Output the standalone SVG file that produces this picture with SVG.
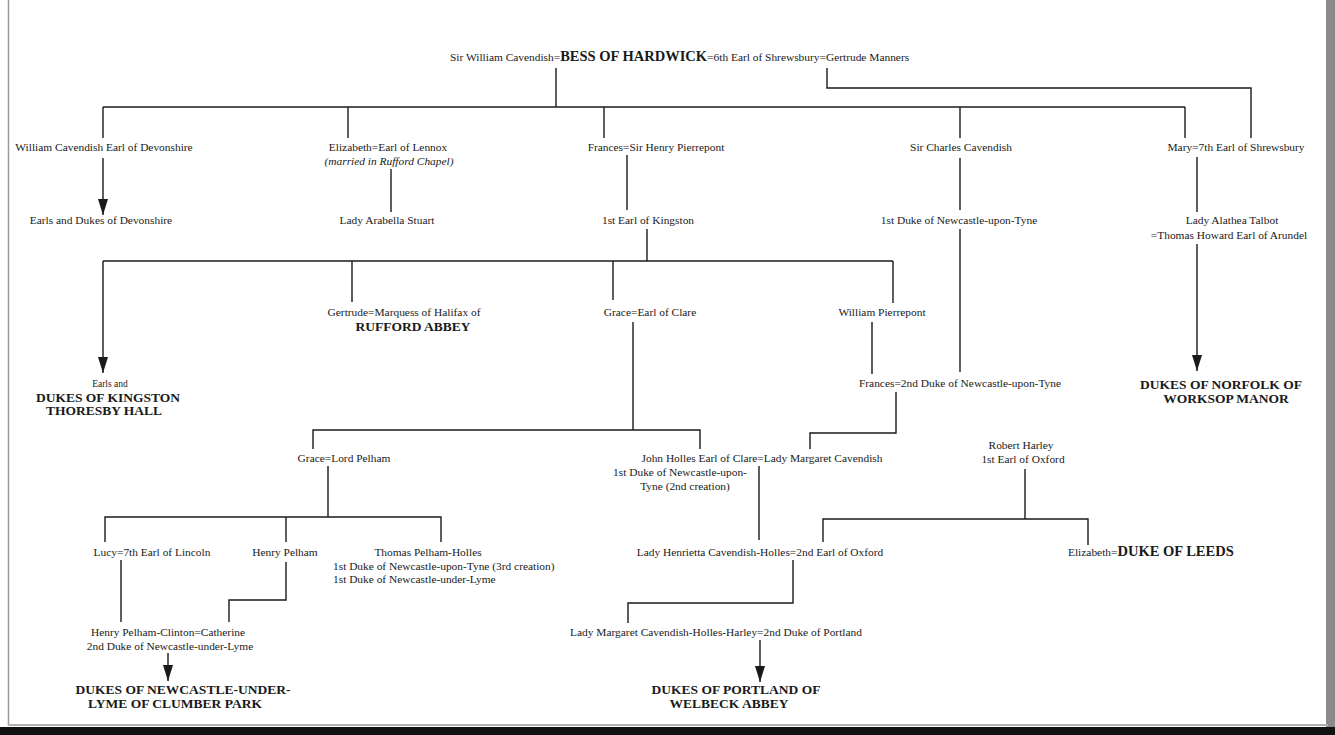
<svg xmlns="http://www.w3.org/2000/svg" width="1335" height="735" viewBox="0 0 1335 735">
<defs>
<style>
text{font-family:"Liberation Serif","Times New Roman",serif;font-size:11.4px;fill:#1a1a1a}
.c{text-anchor:middle}
.b{font-weight:bold;font-size:13.5px}
.bb{font-weight:bold;font-size:14.5px}
.i{font-style:italic}
.sm{font-size:9.5px}
#connectors path{fill:none;stroke:#1a1a1a;stroke-width:1.4}
</style>
<marker id="arr" markerUnits="userSpaceOnUse" markerWidth="10" markerHeight="16" viewBox="0 0 10 16" refX="5" refY="16">
<path d="M0,0 L10,0 L5,16 Z" fill="#1a1a1a"/>
</marker>
</defs>
<rect width="1335" height="735" fill="#ffffff"/>
<g id="frame">
<line x1="8.5" y1="0" x2="8.5" y2="726" stroke="#9a9a9a" stroke-width="1.5"/>
<rect x="1326" y="0" width="9" height="735" fill="#8a8a8a"/>
<rect x="8" y="724" width="1320" height="2" fill="#b0b0b0"/>
<rect x="0" y="727" width="1335" height="8" fill="#111"/>
</g>
<g id="connectors">
<path d="M556,68 V107"/>
<path d="M103,107 H1185"/>
<path d="M103,107 V138"/>
<path d="M348,107 V138"/>
<path d="M604,107 V138"/>
<path d="M960,107 V138"/>
<path d="M1185,107 V138"/>
<path d="M827,68 V88 H1251 V138"/>
<path d="M103,158 V215" marker-end="url(#arr)"/>
<path d="M391,169 V212"/>
<path d="M627,155 V210"/>
<path d="M960,158 V210"/>
<path d="M1197,157 V212"/>
<path d="M647,229 V261"/>
<path d="M103,261 H893"/>
<path d="M103,261 V373" marker-end="url(#arr)"/>
<path d="M352,261 V302"/>
<path d="M613,261 V300"/>
<path d="M893,261 V303"/>
<path d="M960,229 V372"/>
<path d="M1197,244 V371" marker-end="url(#arr)"/>
<path d="M872,322 V374"/>
<path d="M896,392 V433 H810 V449"/>
<path d="M633,322 V430"/>
<path d="M313,449 V430 H700 V449"/>
<path d="M759,466 V540"/>
<path d="M1025,469 V519"/>
<path d="M823,542 V519 H1088 V545"/>
<path d="M328,466 V517"/>
<path d="M105,542 V517 H441 V542"/>
<path d="M286,517 V542"/>
<path d="M121,560 V622"/>
<path d="M286,562 V600 H229 V622"/>
<path d="M168,653 V681" marker-end="url(#arr)"/>
<path d="M793,560 V603 H628 V623"/>
<path d="M760,640 V682" marker-end="url(#arr)"/>
</g>
<g id="bess">
<text x="450" y="61">Sir William Cavendish<tspan>=</tspan><tspan class="bb">BESS OF HARDWICK</tspan><tspan>=6th Earl of Shrewsbury</tspan><tspan>=Gertrude Manners</tspan></text>
</g>
<g id="william-cavendish"><text class="c" x="104" y="151">William Cavendish Earl of Devonshire</text></g>
<g id="devonshire"><text class="c" x="101" y="224">Earls and Dukes of Devonshire</text></g>
<g id="elizabeth-lennox">
<text class="c" x="388" y="151">Elizabeth=Earl of Lennox</text>
<text class="c i" x="389" y="165">(married in Rufford Chapel)</text>
</g>
<g id="arabella"><text class="c" x="387" y="224">Lady Arabella Stuart</text></g>
<g id="frances-pierrepont"><text class="c" x="656" y="151">Frances=Sir Henry Pierrepont</text></g>
<g id="kingston"><text class="c" x="648" y="224">1st Earl of Kingston</text></g>
<g id="charles-cavendish"><text class="c" x="961" y="151">Sir Charles Cavendish</text></g>
<g id="newcastle1"><text class="c" x="959" y="224">1st Duke of Newcastle-upon-Tyne</text></g>
<g id="mary"><text class="c" x="1236" y="151">Mary=7th Earl of Shrewsbury</text></g>
<g id="alathea">
<text class="c" x="1232" y="224">Lady Alathea Talbot</text>
<text class="c" x="1229" y="239">=Thomas Howard Earl of Arundel</text>
</g>
<g id="norfolk">
<text class="c b" x="1221" y="389">DUKES OF NORFOLK OF</text>
<text class="c b" x="1226" y="403">WORKSOP MANOR</text>
</g>
<g id="dukes-kingston">
<text class="c sm" x="110" y="387">Earls and</text>
<text class="c b" x="108" y="402">DUKES OF KINGSTON</text>
<text class="c b" x="104" y="415">THORESBY HALL</text>
</g>
<g id="gertrude">
<text class="c" x="404" y="316">Gertrude=Marquess of Halifax of</text>
<text class="c b" x="413" y="331">RUFFORD ABBEY</text>
</g>
<g id="grace-clare"><text class="c" x="650" y="316">Grace=Earl of Clare</text></g>
<g id="william-pierrepont"><text class="c" x="882" y="316">William Pierrepont</text></g>
<g id="frances-newcastle2"><text class="c" x="960" y="387">Frances=2nd Duke of Newcastle-upon-Tyne</text></g>
<g id="grace-pelham"><text class="c" x="344" y="462">Grace=Lord Pelham</text></g>
<g id="john-holles">
<text class="c" x="762" y="462">John Holles Earl of Clare=Lady Margaret Cavendish</text>
<text class="c" x="680" y="476">1st Duke of Newcastle-upon-</text>
<text class="c" x="685" y="490">Tyne (2nd creation)</text>
</g>
<g id="robert-harley">
<text class="c" x="1021" y="449">Robert Harley</text>
<text class="c" x="1023" y="463">1st Earl of Oxford</text>
</g>
<g id="henrietta"><text class="c" x="760" y="556">Lady Henrietta Cavendish-Holles=2nd Earl of Oxford</text></g>
<g id="elizabeth-leeds"><text x="1068" y="556">Elizabeth=<tspan class="bb">DUKE OF LEEDS</tspan></text></g>
<g id="lucy"><text class="c" x="152" y="556">Lucy=7th Earl of Lincoln</text></g>
<g id="henry-pelham"><text class="c" x="285" y="556">Henry Pelham</text></g>
<g id="thomas-pelham-holles">
<text class="c" x="428" y="556">Thomas Pelham-Holles</text>
<text x="333" y="570">1st Duke of Newcastle-upon-Tyne (3rd creation)</text>
<text x="333" y="583">1st Duke of Newcastle-under-Lyme</text>
</g>
<g id="pelham-clinton">
<text class="c" x="168" y="636">Henry Pelham-Clinton=Catherine</text>
<text class="c" x="170" y="650">2nd Duke of Newcastle-under-Lyme</text>
</g>
<g id="clumber">
<text class="c b" x="183" y="694">DUKES OF NEWCASTLE-UNDER-</text>
<text class="c b" x="175" y="708">LYME OF CLUMBER PARK</text>
</g>
<g id="margaret-portland"><text class="c" x="716" y="636">Lady Margaret Cavendish-Holles-Harley=2nd Duke of Portland</text></g>
<g id="welbeck">
<text class="c b" x="736" y="694">DUKES OF PORTLAND OF</text>
<text class="c b" x="729" y="708">WELBECK ABBEY</text>
</g>
</svg>
